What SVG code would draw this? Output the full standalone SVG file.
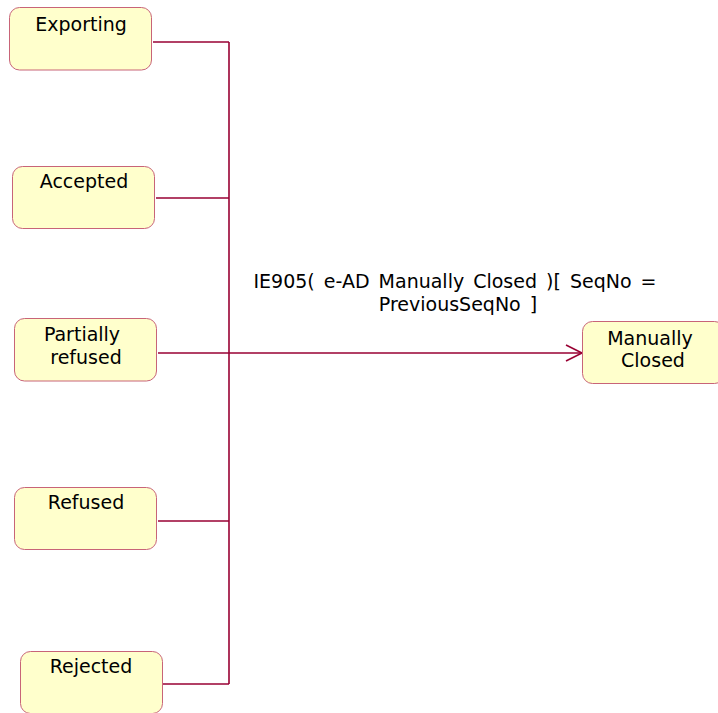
<svg xmlns="http://www.w3.org/2000/svg" width="718" height="713" viewBox="0 0 718 713">
<style>
.node rect{fill:#FFFFCC;stroke:#C86478;stroke-width:1}
text{font-family:"DejaVu Sans","Verdana",sans-serif;font-size:19px;fill:#000;text-anchor:middle}
.lbl{word-spacing:3px}
.conn{fill:none;stroke:#990033;stroke-width:1.6}
</style>
<defs>
<marker id="open" markerWidth="20" markerHeight="20" refX="17" refY="9" orient="auto" markerUnits="userSpaceOnUse">
<path d="M1,1 L17,9 L1,17" fill="none" stroke="#990033" stroke-width="1.6"/>
</marker>
</defs>
<rect width="718" height="713" fill="#fff"/>
<g id="connectors">
<path class="conn" d="M229,42 L229,684"/>
<path class="conn" d="M153,42 L229,42"/>
<path class="conn" d="M156,198 L229,198"/>
<path class="conn" d="M158,521 L229,521"/>
<path class="conn" d="M163,684 L229,684"/>
<path class="conn" d="M158,353 L582,353" marker-end="url(#open)"/>
<text class="lbl" x="455" y="288">IE905( e-AD Manually Closed )[ SeqNo =</text>
<text class="lbl" x="458" y="311">PreviousSeqNo ]</text>
</g>
<g id="exporting" class="node"><rect x="9.5" y="7.5" width="142" height="62.5" rx="10"/><text x="81" y="31">Exporting</text></g>
<g id="accepted" class="node"><rect x="12.5" y="166.5" width="142" height="62" rx="10"/><text x="84" y="188">Accepted</text></g>
<g id="partially-refused" class="node"><rect x="14.5" y="318.5" width="142" height="62.5" rx="10"/><text x="82" y="341">Partially</text><text x="86" y="364">refused</text></g>
<g id="refused" class="node"><rect x="14.5" y="487.5" width="142" height="62" rx="10"/><text x="86" y="509">Refused</text></g>
<g id="rejected" class="node"><rect x="20.5" y="651.5" width="142" height="62" rx="10"/><text x="91" y="673">Rejected</text></g>
<g id="manually-closed" class="node"><rect x="582.5" y="321.5" width="142" height="62" rx="10"/><text x="650" y="345">Manually</text><text x="653" y="367">Closed</text></g>
</svg>
